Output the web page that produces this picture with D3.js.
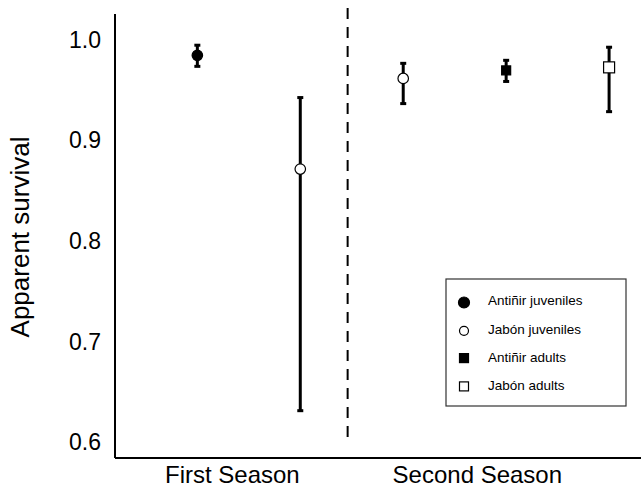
<!DOCTYPE html>
<html lang="en">
  <head>
    <meta charset="utf-8">
    <title>Apparent survival</title>
    <style>
      body { margin: 0; background: #fff; }
      svg { display: block; font-family: 'Liberation Sans', Arial, sans-serif; }
    </style>
  </head>
  <body>
    <div id="chart"></div>
  </body>
  <script src="https://cdnjs.cloudflare.com/ajax/libs/d3/7.8.5/d3.min.js"></script>
  <script type="text/javascript">

    // groups, in plotting order (x slot index)
    const groups = ['Antiñir juveniles', 'Jabón juveniles', 'Jabón juveniles', 'Antiñir adults', 'Jabón adults']
    const slots = [1, 2, 3, 4, 5]
    const estimates = [0.985, 0.872, 0.962, 0.970, 0.973]
    const lower = [0.974, 0.632, 0.937, 0.959, 0.929]
    const upper = [0.995, 0.943, 0.977, 0.980, 0.993]

    const yTicks = [0.6, 0.7, 0.8, 0.9, 1.0]
    const seasons = ['First Season', 'Second Season']
    const seasonSlots = [1.34, 3.72]
    const dividerSlot = 2.46

    const legendItems = ['Antiñir juveniles', 'Jabón juveniles', 'Antiñir adults', 'Jabón adults']

    const width = 641, height = 489
    const margin = { top: 14, right: 0, bottom: 31, left: 115 }

    const symbolFor = {
      'Antiñir juveniles': { shape: 'circle', fill: '#000' },
      'Jabón juveniles': { shape: 'circle', fill: '#fff' },
      'Antiñir adults': { shape: 'square', fill: '#000' },
      'Jabón adults': { shape: 'square', fill: '#fff' }
    }

    const data = groups.map((g, i) => ({ group: g, slot: slots[i], est: estimates[i], lo: lower[i], hi: upper[i] }))

    const svg = d3.select('#chart')
      .append('svg')
      .attr('width', width)
      .attr('height', height)

    const x = d3.scaleLinear()
      .domain([0.2, 5.31])
      .range([margin.left, width - margin.right])

    const y = d3.scaleLinear()
      .domain([0.585, 1.026])
      .range([height - margin.bottom, margin.top])

    // axes lines
    svg.append('line')
      .attr('x1', x(0.2)).attr('x2', x(0.2))
      .attr('y1', y(1.026)).attr('y2', y(0.585))
      .attr('stroke', '#000').attr('stroke-width', 2)
    svg.append('line')
      .attr('x1', x(0.2)).attr('x2', width)
      .attr('y1', y(0.585)).attr('y2', y(0.585))
      .attr('stroke', '#000').attr('stroke-width', 2)

    // y tick labels (no tick marks)
    svg.selectAll('.ytick')
      .data(yTicks)
      .enter()
      .append('text')
      .attr('class', 'ytick')
      .attr('x', 101)
      .attr('y', d => y(d))
      .attr('dy', '0.32em')
      .attr('text-anchor', 'end')
      .style('font-size', '23px')
      .text(d => d.toFixed(1))

    svg.append('text')
      .attr('transform', 'translate(29, 237) rotate(-90)')
      .attr('text-anchor', 'middle')
      .style('font-size', '26px')
      .text('Apparent survival')

    // season labels
    svg.selectAll('.season')
      .data(seasons)
      .enter()
      .append('text')
      .attr('class', 'season')
      .attr('x', (d, i) => x(seasonSlots[i]))
      .attr('y', 483)
      .attr('text-anchor', 'middle')
      .style('font-size', '24px')
      .text(d => d)

    // divider
    svg.append('line')
      .attr('x1', x(dividerSlot)).attr('x2', x(dividerSlot))
      .attr('y1', 8).attr('y2', 442)
      .attr('stroke', '#000').attr('stroke-width', 2)
      .attr('stroke-dasharray', '11,8')

    // error bars
    const capW = 6
    const bars = svg.selectAll('.ebar')
      .data(data)
      .enter()
      .append('g')
      .attr('class', 'ebar')

    bars.append('line')
      .attr('x1', d => x(d.slot)).attr('x2', d => x(d.slot))
      .attr('y1', d => y(d.hi)).attr('y2', d => y(d.lo))
      .attr('stroke', '#000').attr('stroke-width', 3)
    bars.append('line')
      .attr('x1', d => x(d.slot) - capW / 2).attr('x2', d => x(d.slot) + capW / 2)
      .attr('y1', d => y(d.hi)).attr('y2', d => y(d.hi))
      .attr('stroke', '#000').attr('stroke-width', 3)
    bars.append('line')
      .attr('x1', d => x(d.slot) - capW / 2).attr('x2', d => x(d.slot) + capW / 2)
      .attr('y1', d => y(d.lo)).attr('y2', d => y(d.lo))
      .attr('stroke', '#000').attr('stroke-width', 3)

    function drawMarker(sel, group, cx, cy, size) {
      const s = symbolFor[group]
      if (s.shape === 'circle') {
        sel.append('circle')
          .attr('cx', cx).attr('cy', cy).attr('r', size / 2)
          .attr('fill', s.fill).attr('stroke', '#000').attr('stroke-width', 1.2)
      } else {
        sel.append('rect')
          .attr('x', cx - size / 2).attr('y', cy - size / 2)
          .attr('width', size).attr('height', size)
          .attr('fill', s.fill).attr('stroke', '#000').attr('stroke-width', 1.2)
      }
    }

    data.forEach(d => {
      const s = symbolFor[d.group]
      const sz = s.shape === 'circle' ? 10.5 : (s.fill === '#000' ? 9 : 11)
      drawMarker(svg, d.group, x(d.slot), y(d.est), sz)
    })

    // legend
    const legend = svg.append('g').attr('transform', 'translate(446, 279)')
    legend.append('rect')
      .attr('width', 180).attr('height', 127)
      .attr('fill', '#fff').attr('stroke', '#333').attr('stroke-width', 1.2)

    legendItems.forEach((name, i) => {
      const cy = 21.5 + i * 28.3
      const s = symbolFor[name]
      const sz = s.shape === 'circle' ? (s.fill === '#000' ? 11 : 9) : 9
      drawMarker(legend, name, 18, cy + (i < 2 ? 2 : 1), sz)
      legend.append('text')
        .attr('x', 42)
        .attr('y', cy)
        .attr('dy', '0.36em')
        .style('font-size', '13.5px')
        .text(name)
    })

  </script>
</html>
